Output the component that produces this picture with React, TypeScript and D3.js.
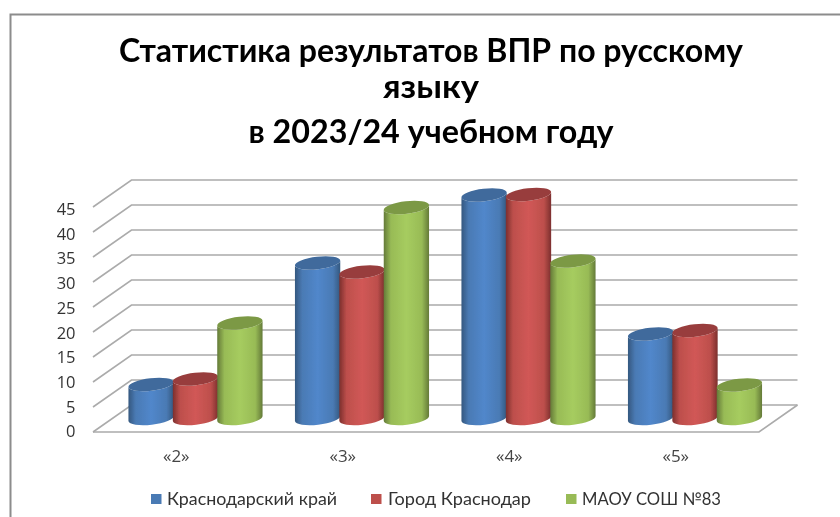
import React from "react";
import * as d3 from "d3";

const categories = ["«2»", "«3»", "«4»", "«5»"];
const seriesNames = ["Краснодарский край", "Город Краснодар", "МАОУ СОШ №83"];
const krai = [6.8, 31.1, 44.7, 16.9];
const city = [7.9, 29.3, 44.8, 17.6];
const school = [19.1, 42.2, 31.5, 6.7];
const ticks = [0, 5, 10, 15, 20, 25, 30, 35, 40, 45];
const titleLines = ["Статистика результатов ВПР по русскому", "языку", "в 2023/24 учебном году"];

const palette = [
  { id: "blue", edge: "#34587f", mid: "#5187cb", top: "#3f6a9c", key: "#4a7ab4" },
  { id: "red", edge: "#7c2f2d", mid: "#d15856", top: "#983e3c", key: "#bd4f4c" },
  { id: "green", edge: "#647a38", mid: "#a6cc5f", top: "#7b9945", key: "#98bb56" },
];

const x0 = 93;
const x1 = 759;
const floorY = 432;
const depthX = 38.5;
const depthY = -27;
const rx = 22.8;
const ry = 6.2;
const tilt = -6.5;

const fontStack = "Lato, 'Open Sans', 'Noto Sans', sans-serif";
const titleWidths = [624, 96, 365];
const titleBase = [61.5, 97.5, 143];
const legendX = [151, 371, 566];
const legendText = [167, 388, 582];
const legendWidths = [170, 143, 139];

const App = () => {
  const band = d3.scaleBand<string>().domain(categories).range([x0, x1]);
  const inner = d3
    .scaleBand<number>()
    .domain([0, 1, 2])
    .range([0, band.bandwidth()])
    .paddingOuter(0.375)
    .paddingInner(0);
  const y = d3.scaleLinear().domain([0, 45]).range([floorY, floorY - 225]);
  const labelY = d3.scaleLinear().domain([0, 45]).range([437.3, 215]);
  const series = [krai, city, school];

  const cosT = Math.cos((tilt * Math.PI) / 180);
  const sinT = Math.sin((tilt * Math.PI) / 180);

  const cylinder = (cx: number, base: number, top: number) => {
    const dx = rx * cosT;
    const dy = rx * sinT;
    return (
      `M${cx - dx},${top - dy}L${cx - dx},${base - dy}` +
      `A${rx},${ry} ${tilt} 0 0 ${cx + dx},${base + dy}` +
      `L${cx + dx},${top + dy}` +
      `A${rx},${ry} ${tilt} 0 1 ${cx - dx},${top - dy}Z`
    );
  };

  return (
    <svg
      width={840}
      height={517}
      style={{ position: "absolute", left: 0, top: 0, display: "block", background: "#fff" }}
    >
      <defs>
        <filter id="soft" x="0" y="0" width="100%" height="100%" filterUnits="userSpaceOnUse">
          <feGaussianBlur stdDeviation="0.4" />
        </filter>
        {palette.map((p) => (
          <linearGradient key={p.id} id={p.id} x1="0" x2="1" y1="0" y2="0">
            <stop offset="0" stopColor={p.edge} />
            <stop offset="0.16" stopColor={p.key} />
            <stop offset="0.5" stopColor={p.mid} />
            <stop offset="0.84" stopColor={p.key} />
            <stop offset="1" stopColor={p.edge} />
          </linearGradient>
        ))}
      </defs>

      <g filter="url(#soft)">
        <path d="M10.5,517V14.5H840" fill="none" stroke="#8c8c8c" strokeWidth={2} />

        {titleLines.map((t, i) => (
          <text
            key={t}
            x={431}
            y={titleBase[i]}
            textAnchor="middle"
            fontFamily={fontStack}
            fontWeight={700}
            fontSize={32}
            fill="#000"
            textLength={titleWidths[i]}
            lengthAdjust="spacingAndGlyphs"
          >
            {t}
          </text>
        ))}

        <g fill="none" stroke="#ababab" strokeWidth={1.6}>
          {ticks.map((t) => (
            <path
              key={t}
              d={`M${x0},${y(t)}L${x0 + depthX},${y(t) + depthY}H${x1 + depthX}`}
            />
          ))}
          <path d={`M${x0},${floorY}H${x1}L${x1 + depthX},${floorY + depthY}`} />
        </g>

        {ticks.map((t) => (
          <text
            key={t}
            x={75.5}
            y={labelY(t)}
            textAnchor="end"
            fontFamily="'Open Sans', sans-serif"
            fontSize={16.5}
            fill="#333"
          >
            {t}
          </text>
        ))}

        {categories.map((c, i) => {
          const left = (band(c) as number) + depthX / 2;
          return (
            <g key={c}>
              {series.map((s, k) => {
                const cx = left + (inner(k) as number) + inner.bandwidth() / 2;
                const base = y(0) + depthY / 2;
                const top = y(s[i]) + depthY / 2;
                const p = palette[k];
                return (
                  <g key={k}>
                    <path d={cylinder(cx, base, top)} fill={`url(#${p.id})`} />
                    <ellipse
                      cx={cx}
                      cy={top}
                      rx={rx}
                      ry={ry}
                      fill={p.top}
                      transform={`rotate(${tilt} ${cx} ${top})`}
                    />
                  </g>
                );
              })}
              <text
                x={(band(c) as number) + band.bandwidth() / 2}
                y={462}
                textAnchor="middle"
                fontFamily="'Open Sans', sans-serif"
                fontSize={17}
                fill="#444"
              >
                {c}
              </text>
            </g>
          );
        })}

        {seriesNames.map((n, i) => (
          <g key={n}>
            <rect x={legendX[i]} y={494} width={10.5} height={10} fill={palette[i].key} />
            <text
              x={legendText[i]}
              y={505}
              fontFamily={fontStack}
              fontSize={17.5}
              fill="#333"
              textLength={legendWidths[i]}
              lengthAdjust="spacingAndGlyphs"
            >
              {n}
            </text>
          </g>
        ))}
      </g>
    </svg>
  );
};

export default App;
